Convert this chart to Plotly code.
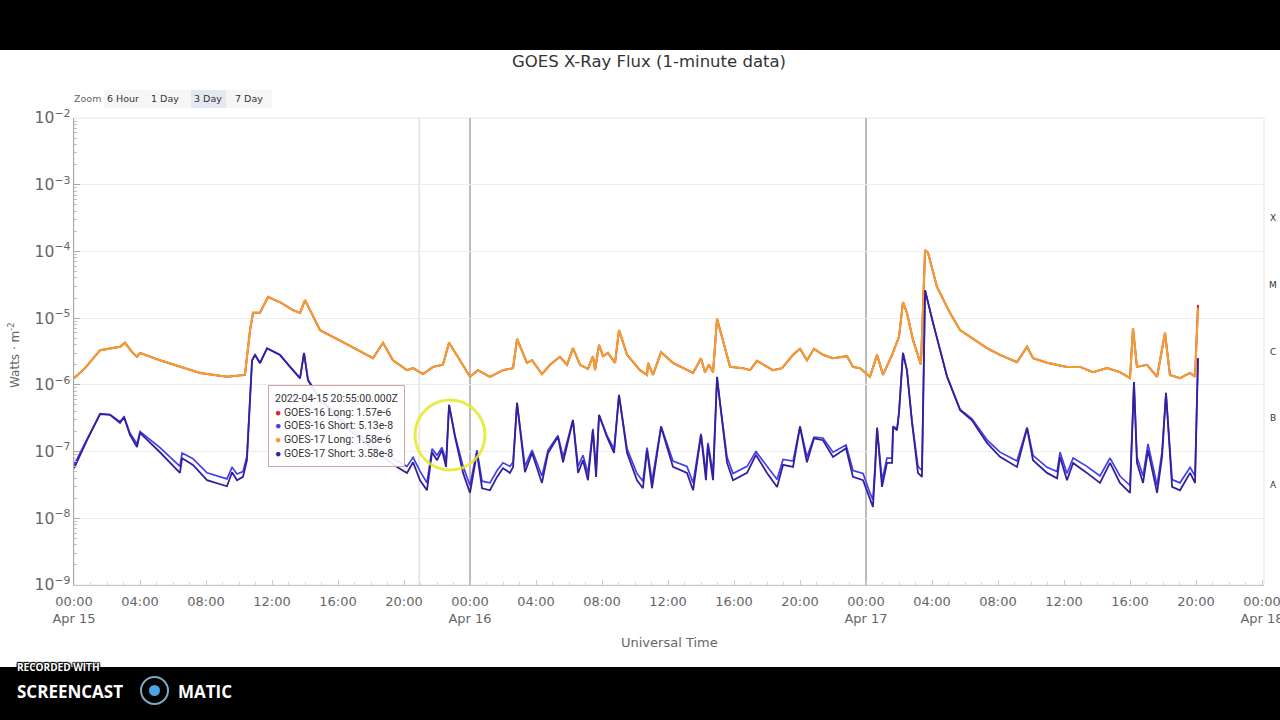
import plotly.graph_objects as go
import pandas as pd

BASE = pd.Timestamp("2022-04-15 00:00")

# ---- data (hours since 2022-04-15 00:00 UTC, flux in W/m^2) ----
t_long = [0, 0.67, 1.58, 2.30, 2.79, 3.09, 3.52, 3.82, 4.00, 5.21, 6.42, 7.64, 9.27, 10.36,
          10.67, 10.85, 11.27, 11.52, 11.76, 12.18, 12.48, 13.27, 13.70, 14.00, 14.30, 14.91,
          16.30, 18.12, 18.73, 19.33, 20.18, 20.55, 21.15, 21.76, 22.36, 22.73, 23.39, 24.00,
          24.48, 25.21, 26.00, 26.61, 26.85, 27.45, 27.76, 28.36, 28.85, 29.45, 29.88, 30.24,
          30.67, 31.15, 31.45, 31.58, 31.82, 32.06, 32.36, 32.79, 33.03, 33.52, 34.30, 34.73,
          34.79, 35.09, 35.58, 36.30, 37.52, 38.00, 38.24, 38.48, 38.73, 38.97, 39.27, 39.76,
          40.55, 40.97, 41.39, 42.36, 42.91, 43.58, 44.00, 44.42, 44.85, 45.39, 46.00, 46.85,
          47.21, 47.64, 48.24, 48.67, 49.03, 49.58, 50.00, 50.24, 50.48, 50.85, 51.33, 51.58,
          51.76, 52.30, 53.09, 53.70, 54.42, 55.33, 56.12, 57.15, 57.76, 58.12, 58.97, 60.18,
          60.97, 61.76, 62.61, 63.39, 64.00, 64.18, 64.42, 65.03, 65.64, 66.12, 66.42, 67.03,
          67.64, 67.94, 68.12]

g17_long = [1.26e-6, 1.78e-6, 3.31e-6, 3.55e-6, 3.72e-6, 4.27e-6, 3.09e-6, 2.63e-6, 3.02e-6,
            2.34e-6, 1.86e-6, 1.51e-6, 1.32e-6, 1.41e-6,
            6.61e-6, 1.20e-5, 1.20e-5, 1.58e-5, 2.09e-5, 1.86e-5, 1.74e-5, 1.32e-5, 1.20e-5,
            1.86e-5, 1.32e-5, 6.61e-6,
            4.37e-6, 2.51e-6, 4.27e-6, 2.34e-6, 1.66e-6, 1.78e-6, 1.45e-6, 1.86e-6, 2.00e-6,
            4.27e-6, 2.34e-6, 1.32e-6,
            1.66e-6, 1.32e-6, 1.66e-6, 1.78e-6, 4.90e-6, 2.14e-6, 2.34e-6, 1.45e-6, 2.00e-6,
            2.63e-6, 2.00e-6, 3.55e-6,
            2.00e-6, 1.74e-6, 2.69e-6, 1.66e-6, 3.98e-6, 2.69e-6, 3.02e-6, 2.14e-6, 6.61e-6,
            2.82e-6, 1.66e-6, 1.41e-6,
            2.14e-6, 1.41e-6, 3.09e-6, 2.14e-6, 1.51e-6, 2.51e-6, 1.55e-6, 2.00e-6, 1.55e-6,
            9.77e-6, 5.25e-6, 1.86e-6,
            1.78e-6, 1.66e-6, 2.29e-6, 1.66e-6, 1.78e-6, 2.82e-6, 3.47e-6, 2.34e-6, 3.47e-6,
            2.82e-6, 2.51e-6, 2.69e-6,
            1.86e-6, 1.78e-6, 1.32e-6, 2.82e-6, 1.41e-6, 2.82e-6, 5.25e-6, 1.74e-5, 1.20e-5,
            4.68e-6, 2.00e-6, 1.05e-4,
            9.55e-5, 2.95e-5, 1.20e-5, 6.61e-6, 5.01e-6, 3.55e-6, 2.82e-6, 2.19e-6, 3.72e-6,
            2.51e-6, 2.14e-6, 1.86e-6,
            1.86e-6, 1.55e-6, 1.78e-6, 1.55e-6, 1.26e-6, 7.08e-6, 1.86e-6, 2.00e-6, 1.32e-6,
            6.03e-6, 1.41e-6, 1.26e-6,
            1.51e-6, 1.32e-6, 1.41e-5]

g16_long = [1.26e-6, 1.78e-6, 3.31e-6, 3.55e-6, 3.72e-6, 4.27e-6, 3.09e-6, 2.63e-6, 3.02e-6,
            2.34e-6, 1.86e-6, 1.51e-6, 1.32e-6, 1.41e-6,
            6.61e-6, 1.20e-5, 1.20e-5, 1.58e-5, 2.09e-5, 1.86e-5, 1.74e-5, 1.32e-5, 1.20e-5,
            1.86e-5, 1.32e-5, 6.61e-6,
            4.37e-6, 2.51e-6, 4.27e-6, 2.34e-6, 1.66e-6, 1.78e-6, 1.45e-6, 1.86e-6, 2.00e-6,
            4.27e-6, 2.34e-6, 1.32e-6,
            1.66e-6, 1.32e-6, 1.66e-6, 1.78e-6, 4.90e-6, 2.14e-6, 2.34e-6, 1.45e-6, 2.00e-6,
            2.63e-6, 2.00e-6, 3.55e-6,
            2.00e-6, 1.74e-6, 2.69e-6, 1.66e-6, 3.98e-6, 2.69e-6, 3.02e-6, 2.14e-6, 6.61e-6,
            2.82e-6, 1.66e-6, 1.41e-6,
            2.14e-6, 1.41e-6, 3.09e-6, 2.14e-6, 1.51e-6, 2.51e-6, 1.55e-6, 2.00e-6, 1.55e-6,
            9.77e-6, 5.25e-6, 1.86e-6,
            1.78e-6, 1.66e-6, 2.29e-6, 1.66e-6, 1.78e-6, 2.82e-6, 3.47e-6, 2.34e-6, 3.47e-6,
            2.82e-6, 2.51e-6, 2.69e-6,
            1.86e-6, 1.78e-6, 1.32e-6, 2.82e-6, 1.41e-6, 2.82e-6, 5.25e-6, 1.74e-5, 1.20e-5,
            4.68e-6, 2.00e-6, 1.05e-4,
            9.55e-5, 2.95e-5, 1.20e-5, 6.61e-6, 5.01e-6, 3.55e-6, 2.82e-6, 2.19e-6, 3.72e-6,
            2.51e-6, 2.14e-6, 1.86e-6,
            1.86e-6, 1.55e-6, 1.78e-6, 1.55e-6, 1.26e-6, 7.08e-6, 1.86e-6, 2.00e-6, 1.32e-6,
            6.03e-6, 1.41e-6, 1.26e-6,
            1.51e-6, 1.32e-6, 1.58e-5]

t_short = [0, 0.79, 1.58, 2.18, 2.79, 3.03, 3.39, 3.82, 4.00, 5.21, 6.42, 6.55, 7.21, 8.06,
           9.27, 9.58, 9.88, 10.24, 10.48, 10.79, 10.97, 11.27, 11.70, 12.48, 13.09, 13.70,
           13.94, 14.18, 14.91, 16.73, 18.55, 19.58, 20.18, 20.55, 20.97, 21.39, 21.70, 22.00,
           22.30, 22.55, 22.73, 23.09, 23.58, 24.00, 24.42, 24.73, 25.21, 25.64, 26.00, 26.42,
           26.61, 26.85, 27.33, 27.76, 28.36, 28.73, 29.33, 29.64, 30.24, 30.55, 30.85, 31.15,
           31.45, 31.64, 31.82, 32.30, 32.73, 33.03, 33.52, 34.12, 34.48, 34.73, 35.03, 35.58,
           36.30, 37.15, 37.52, 38.00, 38.30, 38.42, 38.73, 38.97, 39.15, 39.58, 39.94, 40.79,
           41.33, 42.00, 42.61, 42.97, 43.58, 44.00, 44.42, 44.85, 45.39, 46.00, 46.79, 47.21,
           47.82, 48.24, 48.42, 48.55, 48.67, 48.97, 49.27, 49.58, 49.64, 49.88, 50.00, 50.24,
           50.48, 50.79, 51.15, 51.39, 51.58, 52.06, 52.91, 53.70, 54.42, 55.33, 56.12, 57.15,
           57.76, 58.12, 58.97, 59.58, 59.76, 60.18, 60.55, 61.39, 62.18, 62.79, 63.39, 64.00,
           64.24, 64.42, 64.79, 65.09, 65.64, 65.94, 66.18, 66.55, 67.03, 67.64, 67.94, 68.12]

g17_short = [5.62e-8, 1.48e-7, 3.63e-7, 3.55e-7, 2.69e-7, 3.31e-7, 1.78e-7, 1.17e-7, 1.91e-7,
             9.77e-8, 4.79e-8, 7.94e-8, 6.31e-8, 3.72e-8,
             3.02e-8, 4.90e-8, 3.72e-8, 4.17e-8, 7.41e-8, 2.34e-6, 2.82e-6, 2.14e-6, 3.55e-6,
             2.82e-6, 1.86e-6, 1.26e-6,
             3.02e-6, 1.17e-6, 5.89e-7, 2.09e-7, 8.91e-8, 5.89e-8, 4.79e-8, 6.92e-8, 3.72e-8,
             2.63e-8, 9.77e-8, 7.41e-8,
             1.05e-7, 5.89e-8, 5.01e-7, 1.66e-7, 4.79e-8, 2.40e-8, 9.55e-8, 2.82e-8, 2.63e-8,
             4.17e-8, 5.62e-8, 4.79e-8,
             5.89e-8, 5.37e-7, 4.90e-8, 9.55e-8, 3.39e-8, 9.55e-8, 1.66e-7, 6.92e-8, 2.95e-7,
             4.79e-8, 7.41e-8, 3.72e-8,
             2.09e-7, 4.17e-8, 3.55e-7, 1.66e-7, 9.55e-8, 7.08e-7, 9.55e-8, 3.72e-8, 2.82e-8,
             1.05e-7, 2.82e-8, 2.34e-7,
             5.89e-8, 4.79e-8, 2.63e-8, 1.78e-7, 3.72e-8, 1.26e-7, 3.72e-8, 1.32e-6, 5.37e-7,
             6.76e-8, 3.72e-8, 4.79e-8,
             8.91e-8, 4.79e-8, 2.95e-8, 6.31e-8, 5.89e-8, 2.34e-7, 6.92e-8, 1.58e-7, 1.48e-7,
             8.32e-8, 1.12e-7, 4.17e-8,
             3.72e-8, 1.86e-8, 1.48e-8, 5.25e-8, 2.24e-7, 2.95e-8, 6.76e-8, 6.76e-8, 2.34e-7,
             2.09e-7, 3.80e-7, 3.02e-6,
             1.66e-6, 2.69e-7, 4.79e-8, 4.17e-8, 2.63e-5, 8.51e-6, 1.32e-6, 4.17e-7, 2.95e-7,
             1.35e-7, 8.32e-8, 5.89e-8,
             2.24e-7, 7.41e-8, 4.79e-8, 3.98e-8, 8.32e-8, 3.72e-8, 6.76e-8, 4.79e-8, 3.39e-8,
             6.76e-8, 3.39e-8, 2.40e-8,
             1.10e-6, 6.76e-8, 3.39e-8, 1.05e-7, 2.40e-8, 8.32e-8, 7.59e-7, 2.95e-8, 2.63e-8,
             4.79e-8, 3.39e-8, 2.51e-6]

g16_short = [6.3e-8, 1.55e-7, 3.7e-7, 3.6e-7, 2.8e-7, 3.3e-7, 1.9e-7, 1.3e-7, 2.0e-7,
             1.15e-7, 6.0e-8, 9.5e-8, 7.8e-8, 4.8e-8,
             3.9e-8, 5.8e-8, 4.6e-8, 5.0e-8, 8.5e-8, 2.3e-6, 2.8e-6, 2.1e-6, 3.5e-6,
             2.8e-6, 1.85e-6, 1.25e-6,
             3.0e-6, 1.2e-6, 6.2e-7, 2.3e-7, 1.05e-7, 7.2e-8, 6.0e-8, 8.2e-8, 5.1e-8,
             3.4e-8, 1.1e-7, 8.8e-8,
             1.15e-7, 7.2e-8, 5.0e-7, 1.75e-7, 6.0e-8, 3.1e-8, 1.05e-7, 3.6e-8, 3.4e-8,
             5.2e-8, 6.8e-8, 6.0e-8,
             7.0e-8, 5.4e-7, 6.0e-8, 1.05e-7, 4.3e-8, 1.05e-7, 1.75e-7, 8.3e-8, 3.0e-7,
             6.0e-8, 8.8e-8, 4.7e-8,
             2.2e-7, 5.2e-8, 3.5e-7, 1.75e-7, 1.1e-7, 7.0e-7, 1.1e-7, 4.7e-8, 3.6e-8,
             1.15e-7, 3.6e-8, 2.4e-7,
             7.2e-8, 6.0e-8, 3.4e-8, 1.85e-7, 4.7e-8, 1.35e-7, 4.7e-8, 1.3e-6, 5.4e-7,
             8.2e-8, 4.7e-8, 6.0e-8,
             1.0e-7, 6.0e-8, 3.8e-8, 7.6e-8, 7.2e-8, 2.4e-7, 8.3e-8, 1.65e-7, 1.6e-7,
             9.8e-8, 1.25e-7, 5.2e-8,
             4.7e-8, 2.4e-8, 1.9e-8, 6.2e-8, 2.3e-7, 3.7e-8, 8.0e-8, 8.0e-8, 2.4e-7,
             2.2e-7, 3.9e-7, 3.0e-6,
             1.65e-6, 2.8e-7, 6.0e-8, 5.2e-8, 2.6e-5, 8.5e-6, 1.35e-6, 4.3e-7, 3.1e-7,
             1.5e-7, 9.8e-8, 7.2e-8,
             2.3e-7, 8.8e-8, 5.8e-8, 5.0e-8, 9.8e-8, 4.7e-8, 8.0e-8, 6.0e-8, 4.3e-8,
             8.0e-8, 4.3e-8, 3.1e-8,
             1.1e-6, 8.3e-8, 4.3e-8, 1.3e-7, 3.1e-8, 1.0e-7, 7.5e-7, 3.8e-8, 3.4e-8,
             5.8e-8, 4.3e-8, 2.5e-6]

tick_hours = [0, 4, 8, 12, 16, 20, 24, 28, 32, 36, 40, 44, 48, 52, 56, 60, 64, 68, 72]
tick_text = ["00:00<br>Apr 15", "04:00", "08:00", "12:00", "16:00", "20:00",
             "00:00<br>Apr 16", "04:00", "08:00", "12:00", "16:00", "20:00",
             "00:00<br>Apr 17", "04:00", "08:00", "12:00", "16:00", "20:00",
             "00:00<br>Apr 18"]
flare_classes = ["X", "M", "C", "B", "A"]
flare_class_exp = [-3.5, -4.5, -5.5, -6.5, -7.5]

tooltip_time = "2022-04-15 20:55:00.000Z"
tooltip_names = ["GOES-16 Long", "GOES-16 Short", "GOES-17 Long", "GOES-17 Short"]
tooltip_values = ["1.57e-6", "5.13e-8", "1.58e-6", "3.58e-8"]


def ts(hours):
    return [BASE + pd.Timedelta(hours=h) for h in hours]


# pixel helpers for decoration placement (plot area: x 74..1264, y 118..585)
def px(x):
    return (x - 74) / 1190.0


def py(y):
    return (585 - y) / 467.0


C_RED = "#e0202a"
C_BLUE = "#4040ee"
C_ORANGE = "#f0a030"
C_NAVY = "#35209a"

fig = go.Figure()
fig.add_trace(go.Scatter(x=ts(t_long), y=g16_long, mode="lines", name="GOES-16 Long",
                         line=dict(color=C_RED, width=2)))
fig.add_trace(go.Scatter(x=ts(t_short), y=g16_short, mode="lines", name="GOES-16 Short",
                         line=dict(color=C_BLUE, width=1.7)))
fig.add_trace(go.Scatter(x=ts(t_long), y=g17_long, mode="lines", name="GOES-17 Long",
                         line=dict(color=C_ORANGE, width=2)))
fig.add_trace(go.Scatter(x=ts(t_short), y=g17_short, mode="lines", name="GOES-17 Short",
                         line=dict(color=C_NAVY, width=1.8)))

FONT = "DejaVu Sans"

fig.update_layout(
    width=1280, height=720,
    margin=dict(l=74, r=16, t=118, b=135, autoexpand=False),
    paper_bgcolor="white", plot_bgcolor="white",
    showlegend=False,
    font=dict(family=FONT, color="#666666"),
    title=dict(text="GOES X-Ray Flux (1-minute data)", x=649 / 1280, xanchor="center",
               y=1 - 61 / 720, yanchor="middle", yref="container",
               font=dict(family=FONT, size=16.5, color="#333333")),
    xaxis=dict(
        type="date", automargin=False,
        range=[BASE, BASE + pd.Timedelta(hours=72.12)],
        tickmode="array", tickvals=ts(tick_hours), ticktext=tick_text,
        tickfont=dict(size=13, color="#666666"),
        ticklabelstandoff=4, ticklabeloverflow="allow",
        showgrid=False, zeroline=False,
        showline=True, linecolor="#c8c8c8", linewidth=1,
        ticks="inside", ticklen=5, tickcolor="#cccccc",
        minor=dict(dtick=3600000, ticks="inside", ticklen=3, tickcolor="#d8d8d8"),
    ),
    yaxis=dict(
        type="log", range=[-9, -2], dtick=1, exponentformat="power", automargin=False,
        tickfont=dict(size=12.5, color="#666666"),
        showgrid=True, gridcolor="#ececec", gridwidth=1, zeroline=False,
        showline=True, linecolor="#a8a8a8", linewidth=1,
        ticks="inside", ticklen=6, tickcolor="#a8a8a8",
        minor=dict(ticks="inside", ticklen=3, tickcolor="#c0c0c0", showgrid=False),
    ),
)

shapes = []
# plot frame (top/right)
shapes.append(dict(type="rect", xref="paper", yref="paper", x0=0, x1=1, y0=0, y1=1,
                   line=dict(color="#e6e6e6", width=1), layer="below"))
# vertical plot lines: crosshair at 20:55 and day boundaries
shapes.append(dict(type="line", xref="x", yref="paper",
                   x0=BASE + pd.Timedelta(hours=20.9167), x1=BASE + pd.Timedelta(hours=20.9167),
                   y0=0, y1=1, line=dict(color="#d4d4d4", width=1), layer="below"))
for d in [24, 48]:
    shapes.append(dict(type="line", xref="x", yref="paper",
                       x0=BASE + pd.Timedelta(hours=d), x1=BASE + pd.Timedelta(hours=d),
                       y0=0, y1=1, line=dict(color="#a6a6a6", width=1.5), layer="below"))
# zoom button backgrounds
shapes.append(dict(type="rect", xref="paper", yref="paper", x0=px(104), x1=px(191),
                   y0=py(108), y1=py(90), fillcolor="#f6f6f6", line=dict(width=0), layer="below"))
shapes.append(dict(type="rect", xref="paper", yref="paper", x0=px(226), x1=px(272),
                   y0=py(108), y1=py(90), fillcolor="#f6f6f6", line=dict(width=0), layer="below"))
shapes.append(dict(type="rect", xref="paper", yref="paper", x0=px(191), x1=px(226),
                   y0=py(108), y1=py(90), fillcolor="#e4e8f0", line=dict(width=0), layer="below"))
# yellow cursor highlight ring
shapes.append(dict(type="circle", xref="paper", yref="paper", x0=px(415), x1=px(485),
                   y0=py(470), y1=py(400), line=dict(color="rgba(232,232,40,0.85)", width=3)))
# screencast black bars
shapes.append(dict(type="rect", xref="paper", yref="paper", x0=-0.1, x1=1.1,
                   y0=py(50), y1=py(-10), fillcolor="black", line=dict(width=0)))
shapes.append(dict(type="rect", xref="paper", yref="paper", x0=-0.1, x1=1.1,
                   y0=py(730), y1=py(667), fillcolor="black", line=dict(width=0)))
# screencast logo
shapes.append(dict(type="circle", xref="paper", yref="paper", x0=px(141), x1=px(168),
                   y0=py(704), y1=py(677), fillcolor="black",
                   line=dict(color="#7fa8bf", width=2)))
shapes.append(dict(type="circle", xref="paper", yref="paper", x0=px(149), x1=px(160),
                   y0=py(696), y1=py(685), fillcolor="#4aa3e6", line=dict(width=0)))
fig.update_layout(shapes=shapes)

ann = []
# right-hand flare class labels
for lab, e in zip(flare_classes, flare_class_exp):
    ann.append(dict(text=lab, xref="paper", yref="y", x=px(1273), y=e, showarrow=False,
                    font=dict(family=FONT, size=9, color="#333333"),
                    xanchor="center", yanchor="middle"))
# axis titles
ann.append(dict(text="Watts · m<sup>-2</sup>", xref="paper", yref="paper", x=px(14), y=py(355),
                textangle=-90, showarrow=False, xanchor="center", yanchor="middle",
                font=dict(family=FONT, size=12, color="#666666")))
ann.append(dict(text="Universal Time", xref="paper", yref="paper", x=px(669), y=py(642),
                showarrow=False, xanchor="center", yanchor="middle",
                font=dict(family=FONT, size=13, color="#666666")))
# zoom buttons
ann.append(dict(text="Zoom", xref="paper", yref="paper", x=px(87), y=py(99), showarrow=False,
                xanchor="center", yanchor="middle",
                font=dict(family=FONT, size=9.5, color="#666666")))
for lab, cx in zip(["6 Hour", "1 Day", "3 Day", "7 Day"], [123, 165, 208, 249]):
    ann.append(dict(text=lab, xref="paper", yref="paper", x=px(cx), y=py(99), showarrow=False,
                    xanchor="center", yanchor="middle",
                    font=dict(family=FONT, size=9.5, color="#333333")))
# tooltip
dot_colors = [C_RED, C_BLUE, C_ORANGE, C_NAVY]
lines = [tooltip_time]
for c, n, v in zip(dot_colors, tooltip_names, tooltip_values):
    lines.append(f"<span style='color:{c}'>●</span> {n}: {v}")
ann.append(dict(text="<br>".join(lines), xref="paper", yref="paper", x=px(268), y=py(385),
                xanchor="left", yanchor="top", align="left", showarrow=False,
                bgcolor="rgba(255,255,255,0.9)", bordercolor="#d9a3a3", borderwidth=1,
                borderpad=6, font=dict(family="Roboto", size=10.5, color="#333333")))
# screencast watermark
ann.append(dict(text="<b>RECORDED WITH</b>", xref="paper", yref="paper", x=px(15), y=py(667),
                xanchor="left", yanchor="middle", showarrow=False,
                font=dict(family="Open Sans", size=10, color="white",
                          shadow="1px 1px 1px #000, -1px -1px 1px #000, 1px -1px 1px #000, -1px 1px 1px #000")))
ann.append(dict(text="<b>SCREENCAST</b>", xref="paper", yref="paper", x=px(15), y=py(691),
                xanchor="left", yanchor="middle", showarrow=False,
                font=dict(family="Open Sans", size=17, color="white")))
ann.append(dict(text="<b>MATIC</b>", xref="paper", yref="paper", x=px(176), y=py(691),
                xanchor="left", yanchor="middle", showarrow=False,
                font=dict(family="Open Sans", size=17, color="white")))
fig.update_layout(annotations=ann)

fig.write_html("out.html", config={"displayModeBar": False},
               post_script="document.body.style.margin='0';document.body.style.overflow='hidden';")
